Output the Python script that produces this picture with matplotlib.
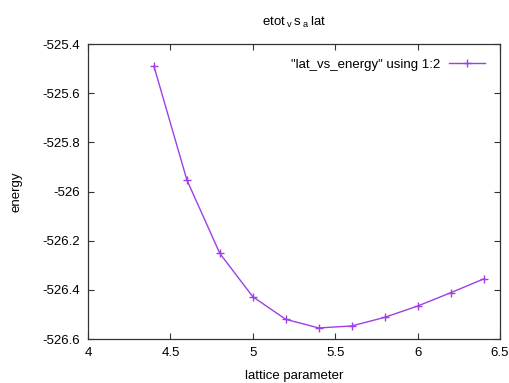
import matplotlib
matplotlib.use("Agg")
import matplotlib.pyplot as plt

lattice = [4.4, 4.6, 4.8, 5.0, 5.2, 5.4, 5.6, 5.8, 6.0, 6.2, 6.4]
energy = [-525.490, -525.953, -526.252, -526.428, -526.520, -526.555,
          -526.547, -526.512, -526.466, -526.412, -526.356]
xticks = [4, 4.5, 5, 5.5, 6, 6.5]
xticklabels = ["4", "4.5", "5", "5.5", "6", "6.5"]
yticks = [-525.4, -525.6, -525.8, -526, -526.2, -526.4, -526.6]
yticklabels = ["-525.4", "-525.6", "-525.8", "-526", "-526.2", "-526.4", "-526.6"]

plt.rcParams['font.family'] = ['Liberation Sans', 'DejaVu Sans']
plt.rcParams['font.size'] = 9.5
plt.rcParams['mathtext.fontset'] = 'custom'
plt.rcParams['mathtext.rm'] = 'Liberation Sans'

fig = plt.figure(figsize=(5.09, 3.83), dpi=100)
ax = fig.add_axes([88/509, 1 - 339/383, (500-88)/509, (339-44)/383])

ax.plot(lattice, energy, color='#a03ee6', lw=1.0, marker='+', ms=5.5,
        mew=1.0, label='"lat_vs_energy" using 1:2')

ax.set_xlim(4, 6.5)
ax.set_ylim(-526.6, -525.4)
ax.set_xticks(xticks)
ax.set_xticklabels(xticklabels)
ax.set_yticks(yticks)
ax.set_yticklabels(yticklabels)
ax.tick_params(direction='in', top=True, right=True, length=4, width=0.8,
               colors='#333333', labelcolor='black', pad=6)
for s in ax.spines.values():
    s.set_color('#333333')
    s.set_linewidth(0.9)

ax.set_xlabel('lattice parameter', labelpad=7.5)
ax.set_ylabel('energy', labelpad=14)
ax.set_title(r'etot$\,_{\rm v}\,$s$\,_{\rm a}\,$lat', fontsize=9.5, pad=13)

leg = ax.legend(loc='upper right', frameon=False, markerfirst=False,
                handlelength=2.8, borderaxespad=0.7, fontsize=9.5,
                handletextpad=0.6)

fig.savefig('out.png', dpi=100)
